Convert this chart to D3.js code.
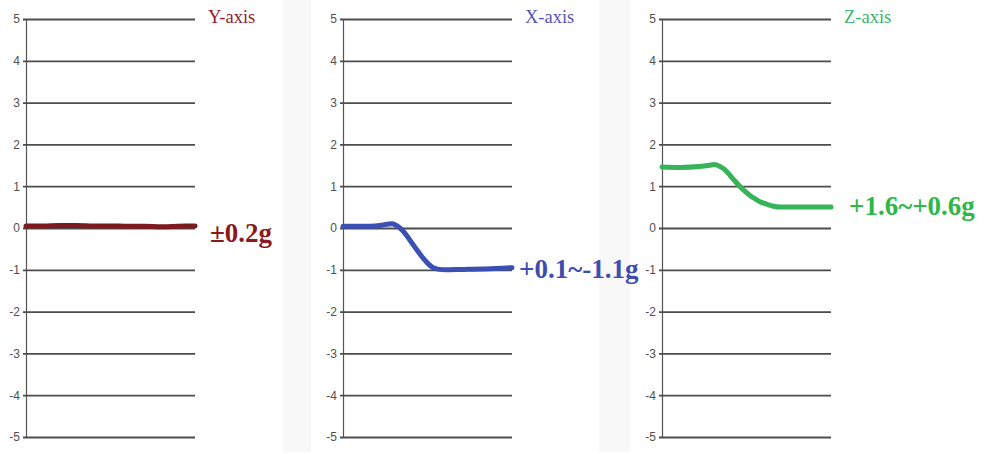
<!DOCTYPE html>
<html>
<head>
<meta charset="utf-8">
<script src="https://cdn.jsdelivr.net/npm/d3@7"></script>
<style>
  body { margin: 0; background: #fff; }
  .tick text { font-family: "Liberation Sans", Arial, sans-serif; font-size: 12px; fill: #505050; }
</style>
</head>
<body>
<script>
// shared axis values
const yTicks = [5, 4, 3, 2, 1, 0, -1, -2, -3, -4, -5];
const panelNames = ["Y-axis", "X-axis", "Z-axis"];
const panelNotes = ["\u00b10.2g", "+0.1~-1.1g", "+1.6~+0.6g"];

// time (0..100 across each panel) and readings in g
const yTime = [0, 10, 20, 30, 40, 50, 60, 70, 80, 90, 100];
const yValues = [0.05, 0.05, 0.06, 0.06, 0.05, 0.05, 0.04, 0.04, 0.03, 0.04, 0.05];

const xTime = [0, 10, 16, 22, 26, 29, 32, 35, 38, 41, 44, 47, 50, 53, 57, 61, 70, 82, 94, 100];
const xValues = [0.04, 0.04, 0.04, 0.06, 0.09, 0.1, 0.05, -0.05, -0.2, -0.37, -0.54, -0.7, -0.84, -0.94, -0.99, -1.0, -0.99, -0.98, -0.96, -0.95];

const zTime = [0, 11, 22, 28, 31, 34, 37, 40, 43, 46, 49, 52, 55, 58, 62, 66, 70, 82, 100];
const zValues = [1.46, 1.45, 1.47, 1.5, 1.52, 1.48, 1.4, 1.27, 1.13, 1.0, 0.88, 0.78, 0.7, 0.63, 0.57, 0.52, 0.5, 0.5, 0.5];

const series = [
  { time: yTime, values: yValues, color: "#7c1a20", title: "#8e2230", note: "#8a1a1e", dx: 15, dy: 16 },
  { time: xTime, values: xValues, color: "#3a50b2", title: "#5555b5", note: "#3f4cb0", dx: 7, dy: 10 },
  { time: zTime, values: zValues, color: "#37b358", title: "#3db36c", note: "#2fb848", dx: 18, dy: 8 }
];

const width = 984, height = 454;
const panelLeft = [26, 343, 662];
const panelW = 169;

const svg = d3.select("body").append("svg")
  .attr("width", width)
  .attr("height", height);

// faint grey gutters between the screenshots
svg.selectAll("rect.gutter")
  .data([[283, 28], [599, 31]])
  .join("rect")
  .attr("class", "gutter")
  .attr("x", d => d[0])
  .attr("y", 0)
  .attr("width", d => d[1])
  .attr("height", 452)
  .attr("fill", "#f7f8f7");

const y = d3.scaleLinear().domain([-5, 5]).range([437, 19]);
const x = d3.scaleLinear().domain([0, 100]).range([0, panelW]);

series.forEach((s, i) => {
  const g = svg.append("g").attr("transform", `translate(${panelLeft[i]},0)`);

  const axis = d3.axisLeft(y)
    .tickValues(yTicks)
    .tickFormat(d => String(d))
    .tickSizeOuter(0)
    .tickSize(3)
    .tickPadding(3);

  g.append("g")
    .call(axis)
    .call(a => a.select(".domain").attr("stroke", "#555").attr("stroke-width", 1.2))
    .call(a => a.selectAll(".tick line")
      .attr("x1", -3)
      .attr("x2", panelW)
      .attr("stroke", "#4d4d4d")
      .attr("stroke-width", 1.8));

  const line = d3.line()
    .x((d, k) => x(s.time[k]))
    .y(d => y(d))
    .curve(d3.curveMonotoneX);

  g.append("path")
    .datum(s.values)
    .attr("fill", "none")
    .attr("stroke", s.color)
    .attr("stroke-width", 5)
    .attr("stroke-linecap", "round")
    .attr("stroke-linejoin", "round")
    .attr("d", line);

  g.append("text")
    .attr("x", panelW + 13)
    .attr("y", 23)
    .attr("font-family", "'Liberation Serif', 'Times New Roman', serif")
    .attr("font-size", 18.5)
    .attr("fill", s.title)
    .text(panelNames[i]);

  const last = s.values[s.values.length - 1];
  g.append("text")
    .attr("x", panelW + s.dx)
    .attr("y", y(last) + s.dy)
    .attr("font-family", "'Liberation Serif', 'Times New Roman', serif")
    .attr("font-size", 27)
    .attr("font-weight", "bold")
    .attr("fill", s.note)
    .text(panelNotes[i]);
});
</script>
</body>
</html>
